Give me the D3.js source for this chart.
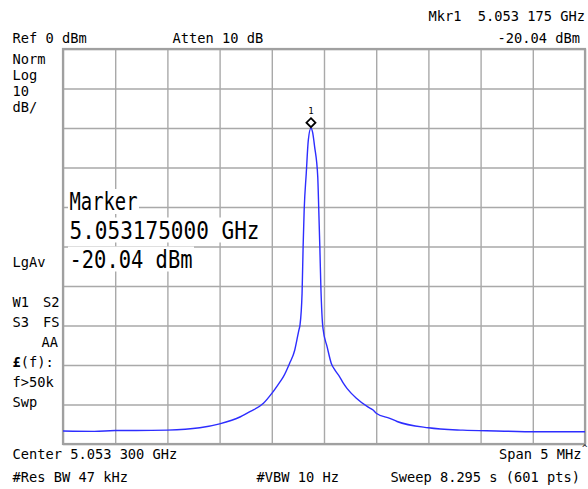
<!DOCTYPE html>
<html>
<head>
<meta charset="utf-8">
<script src="https://cdn.jsdelivr.net/npm/d3@7"></script>
<style>
  body { margin: 0; background: #fff; }
  svg { display: block; }
  text { font-family: "DejaVu Sans Mono", monospace; fill: #000; white-space: pre; }
  .grid line { stroke: #a9a9a9; stroke-width: 1.4; }
  .grid path { display: none; }
</style>
</head>
<body>
<svg width="588" height="489"></svg>
<script>
// trace: offset from center (MHz) and level (dBm)
const freqOffsetMHz = [-2.5, -2.2, -2.0, -1.8, -1.5, -1.19, -1.0, -0.8, -0.71, -0.58, -0.5, -0.42, -0.39,
  -0.33, -0.28, -0.26, -0.24, -0.23, -0.21, -0.2, -0.19, -0.17, -0.15, -0.125, -0.11, -0.09, -0.06, -0.05,
  -0.04, -0.03, -0.01, 0.03, 0.07, 0.105, 0.15, 0.185, 0.22, 0.31, 0.42, 0.47, 0.5, 0.63, 0.7, 1.0, 1.33,
  1.65, 2.04, 2.5];
const levelDbm = [-96.7, -96.8, -96.6, -96.6, -96.5, -95.9, -94.9, -93.1, -91.8, -89.7, -87.2, -84.2, -83.0,
  -79.6, -76.2, -73.7, -71.1, -69.9, -61.8, -50.0, -40.8, -31.5, -23.0, -20.04, -21.0, -24.7, -32.3, -40.8,
  -50.0, -60.2, -70.7, -75.4, -79.6, -81.3, -83.0, -84.6, -85.9, -88.4, -90.6, -91.4, -92.2, -93.5, -94.3, -95.9, -96.5,
  -96.7, -96.9, -96.9];

const marker = { f: -0.125, level: -20.04 };

const leftLabels = ["Norm", "Log", "10", "dB/"];
const statusLabels = ["LgAv"];
const lowerLabels = ["W1", "S3", "", "", "f>50k", "Swp"];
const lowerLabels2 = ["S2", "FS", "AA"];
const markerBox = ["Marker", "5.053175000 GHz", "-20.04 dBm"];

const svg = d3.select("svg");
const pLeft = 63, pRight = 585, pTop = 49, pBottom = 444;

const x = d3.scaleLinear().domain([-2.5, 2.5]).range([pLeft, pRight]);
const y = d3.scaleLinear().domain([-100, 0]).range([pBottom, pTop]);

// grid
svg.append("g").attr("class", "grid")
  .attr("transform", `translate(0,${pBottom})`)
  .call(d3.axisBottom(x).ticks(10).tickSize(-(pBottom - pTop)).tickFormat(""));
svg.append("g").attr("class", "grid")
  .attr("transform", `translate(${pLeft},0)`)
  .call(d3.axisLeft(y).ticks(10).tickSize(-(pRight - pLeft)).tickFormat(""));

svg.append("rect")
  .attr("x", pLeft).attr("y", pTop)
  .attr("width", pRight - pLeft).attr("height", pBottom - pTop)
  .attr("fill", "none").attr("stroke", "#a0a0a0").attr("stroke-width", 2.2);

// big marker readout with white boxes behind it
const boxLines = [
  { t: markerBox[0], base: 210, w: 68 },
  { t: markerBox[1], base: 238.5, w: 190 },
  { t: markerBox[2], base: 267.5, w: 123 }
];
boxLines.forEach(d => {
  svg.append("rect").attr("x", 68).attr("y", d.base - 21).attr("width", d.w + 3).attr("height", 25).attr("fill", "#fff");
});
boxLines.forEach(d => {
  svg.append("text").attr("x", 69.5).attr("y", d.base)
    .attr("font-size", 24.5)
    .attr("textLength", d.w).attr("lengthAdjust", "spacingAndGlyphs")
    .text(d.t);
});

// trace
const line = d3.line().x((d, i) => x(freqOffsetMHz[i])).y(d => y(d)).curve(d3.curveMonotoneX);
svg.append("path")
  .datum(levelDbm)
  .attr("d", line)
  .attr("fill", "none")
  .attr("stroke", "#2d2dff")
  .attr("stroke-width", 1.4);

// marker diamond
const mx = x(marker.f), my = y(marker.level) - 5.5;
svg.append("path")
  .attr("d", `M${mx},${my - 4.5}L${mx + 4.5},${my}L${mx},${my + 4.5}L${mx - 4.5},${my}Z`)
  .attr("fill", "#fff").attr("stroke", "#000").attr("stroke-width", 1.8);
svg.append("text").attr("x", mx).attr("y", my - 9).attr("text-anchor", "middle")
  .attr("font-size", 9).text("1");

// annotations
const fs = 13.7;
function label(t, xx, yy, anchor) {
  return svg.append("text").attr("x", xx).attr("y", yy)
    .attr("font-size", fs).attr("text-anchor", anchor || "start").text(t);
}
label("Ref 0 dBm", 12.5, 42.7);
label("Atten 10 dB", 172.5, 42.7);
label("Mkr1  5.053 175 GHz", 585, 20.7, "end");
label("-20.04 dBm", 580, 42.7, "end");

leftLabels.forEach((t, i) => label(t, 12.5, 63.5 + i * 16.3));
label(statusLabels[0], 12.5, 267.3);

lowerLabels.forEach((t, i) => { if (t) label(t, 12.5, 306.5 + i * 20); });
lowerLabels2.forEach((t, i) => label(t, i < 2 ? 43 : 41.5, 306.5 + i * 20));
const fl = label("", 12.5, 366.5);
fl.append("tspan").attr("font-weight", "bold").text("£");
fl.append("tspan").text("(f):");

label("Center 5.053 300 GHz", 12.5, 459.3);
label("Span 5 MHz", 581.5, 459.3, "end");
svg.append("text").attr("x", 582).attr("y", 451).attr("font-size", 9).text("^");
label("#Res BW 47 kHz", 12.5, 481.7);
label("#VBW 10 Hz", 256.5, 481.7);
label("Sweep 8.295 s (601 pts)", 580, 481.7, "end");
</script>
</body>
</html>
